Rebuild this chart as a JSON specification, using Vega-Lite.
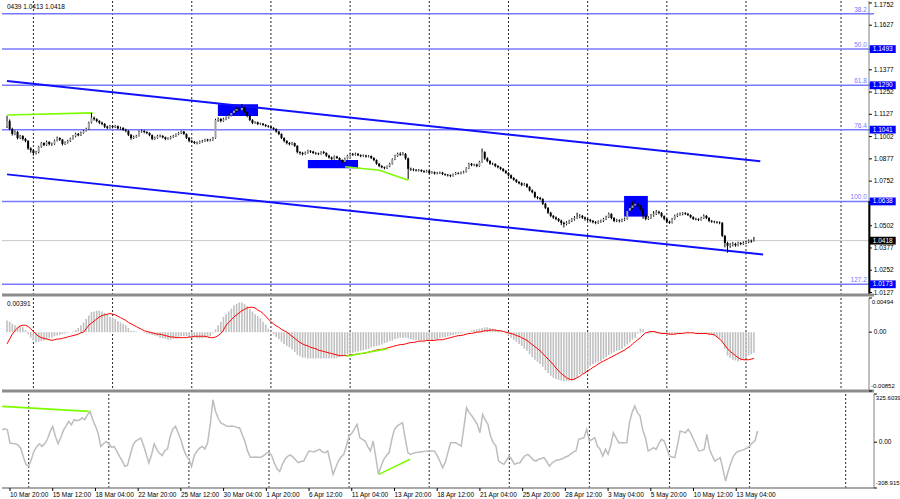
{
  "$schema": "https://vega.github.io/schema/vega-lite/v6.json",
  "padding": 0,
  "spacing": 0,
  "background": "white",
  "config": {
    "view": {"stroke": null},
    "axis": {"disable": true},
    "text": {"font": "Liberation Sans", "fontSize": 6.5, "color": "#000"}
  },
  "datasets": {
    "grid": [{"g":10},{"g":40},{"g":70},{"g":100},{"g":130},{"g":160},{"g":190},{"g":220},{"g":250},{"g":280},{"g":316}],
    "ytMain": [{"p":1.1752,"t":"1.1752"},{"p":1.1627,"t":"1.1627"},{"p":1.1377,"t":"1.1377"},{"p":1.1252,"t":"1.1252"},{"p":1.1127,"t":"1.1127"},{"p":1.1002,"t":"1.1002"},{"p":1.0877,"t":"1.0877"},{"p":1.0752,"t":"1.0752"},{"p":1.0502,"t":"1.0502"},{"p":1.0377,"t":"1.0377"},{"p":1.0252,"t":"1.0252"},{"p":1.0127,"t":"1.0127"}],
    "ytLab": [{"p":1.1627,"t":"1.1627"},{"p":1.1377,"t":"1.1377"},{"p":1.1252,"t":"1.1252"},{"p":1.1127,"t":"1.1127"},{"p":1.1002,"t":"1.1002"},{"p":1.0877,"t":"1.0877"},{"p":1.0752,"t":"1.0752"},{"p":1.0502,"t":"1.0502"},{"p":1.0377,"t":"1.0377"},{"p":1.0252,"t":"1.0252"},{"p":1.0127,"t":"1.0127"}],
    "xt": [{"t":3,"lab":"10 Mar 20:00"},{"t":19,"lab":"15 Mar 12:00"},{"t":35,"lab":"18 Mar 04:00"},{"t":51,"lab":"22 Mar 20:00"},{"t":67,"lab":"25 Mar 12:00"},{"t":83,"lab":"30 Mar 04:00"},{"t":99,"lab":"1 Apr 20:00"},{"t":115,"lab":"6 Apr 12:00"},{"t":131,"lab":"11 Apr 04:00"},{"t":147,"lab":"13 Apr 20:00"},{"t":163,"lab":"18 Apr 12:00"},{"t":179,"lab":"21 Apr 04:00"},{"t":195,"lab":"25 Apr 20:00"},{"t":211,"lab":"28 Apr 12:00"},{"t":227,"lab":"3 May 04:00"},{"t":243,"lab":"5 May 20:00"},{"t":259,"lab":"10 May 12:00"},{"t":275,"lab":"13 May 04:00"}],
    "fib": [{"lvl":"38.2","p":1.1692},{"lvl":"50.0","p":1.1493},{"lvl":"61.8","p":1.1290},{"lvl":"76.4","p":1.1041},{"lvl":"100.0","p":1.0638},{"lvl":"127.2","p":1.0173}],
    "tags": [{"p":1.1493,"t":"1.1493","k":"fib"},{"p":1.1290,"t":"1.1290","k":"fib"},{"p":1.1041,"t":"1.1041","k":"fib"},{"p":1.0638,"t":"1.0638","k":"fib"},{"p":1.0173,"t":"1.0173","k":"fib"},{"p":1.0418,"t":"1.0418","k":"cur"}],
    "zones": [{"a":79.9,"b":95.1,"p1":1.1183,"p2":1.1118},{"a":114,"b":133,"p1":1.0871,"p2":1.0824},{"a":233.8,"b":242.8,"p1":1.0669,"p2":1.0553}],
    "chUp": [{"i":0,"p":1.1314},{"i":285.4,"p":1.0863}],
    "chDn": [{"i":0,"p":1.0790},{"i":286.5,"p":1.0340}],
    "gMainA": [{"i":0,"p":1.1123},{"i":32.5,"p":1.1135}],
    "gMainB": [{"i":128.1,"p":1.0833},{"i":141.1,"p":1.0813},{"i":152.1,"p":1.0757}],
    "gMacd": [{"i":128.5,"m":-0.0035},{"i":144.2,"m":-0.0024}],
    "gCciA": [{"i":0,"v":242},{"i":32.5,"v":208}],
    "gCciB": [{"i":141.1,"v":-217},{"i":152.9,"v":-115}],
    "bars": [
{"i":0,"o":1.1060,"h":1.1118,"l":1.1050,"c":1.1090,"m":0.0017,"s":-0.0017,"v":84},
{"i":1,"o":1.1090,"h":1.1098,"l":1.1038,"c":1.1045,"m":0.0015,"s":-0.0010,"v":90},
{"i":2,"o":1.1045,"h":1.1052,"l":1.1008,"c":1.1017,"m":0.0012,"s":-0.0003,"v":84},
{"i":3,"o":1.1017,"h":1.1036,"l":1.1010,"c":1.1028,"m":0.0010,"s":0.0002,"v":-5},
{"i":4,"o":1.1028,"h":1.1033,"l":1.0986,"c":1.0994,"m":0.0008,"s":0.0006,"v":-8},
{"i":5,"o":1.0994,"h":1.1012,"l":1.0988,"c":1.1005,"m":0.0008,"s":0.0009,"v":-10},
{"i":6,"o":1.1005,"h":1.1010,"l":1.0980,"c":1.0989,"m":0.0007,"s":0.0010,"v":-20},
{"i":7,"o":1.0989,"h":1.0995,"l":1.0970,"c":1.0978,"m":0.0003,"s":0.0010,"v":-40},
{"i":8,"o":1.0978,"h":1.0982,"l":1.0928,"c":1.0935,"m":-0.0003,"s":0.0008,"v":-100},
{"i":9,"o":1.0935,"h":1.0942,"l":1.0912,"c":1.0925,"m":-0.0008,"s":0.0005,"v":-150},
{"i":10,"o":1.0925,"h":1.0930,"l":1.0895,"c":1.0910,"m":-0.0012,"s":0.0001,"v":-163},
{"i":11,"o":1.0910,"h":1.0922,"l":1.0902,"c":1.0915,"m":-0.0015,"s":-0.0003,"v":-115},
{"i":12,"o":1.0915,"h":1.0950,"l":1.0908,"c":1.0945,"m":-0.0014,"s":-0.0006,"v":-60},
{"i":13,"o":1.0945,"h":1.0972,"l":1.0940,"c":1.0966,"m":-0.0013,"s":-0.0008,"v":-30},
{"i":14,"o":1.0966,"h":1.0970,"l":1.0948,"c":1.0955,"m":-0.0012,"s":-0.0009,"v":-10},
{"i":15,"o":1.0955,"h":1.0980,"l":1.0950,"c":1.0972,"m":-0.0010,"s":-0.0010,"v":-28},
{"i":16,"o":1.0972,"h":1.0976,"l":1.0952,"c":1.0960,"m":-0.0009,"s":-0.0011,"v":-10},
{"i":17,"o":1.0960,"h":1.0968,"l":1.0950,"c":1.0961,"m":-0.0008,"s":-0.0012,"v":20},
{"i":18,"o":1.0961,"h":1.0986,"l":1.0956,"c":1.0980,"m":-0.0006,"s":-0.0011,"v":70},
{"i":19,"o":1.0980,"h":1.1002,"l":1.0975,"c":1.0994,"m":-0.0005,"s":-0.0010,"v":107},
{"i":20,"o":1.0994,"h":1.0998,"l":1.0978,"c":1.0985,"m":-0.0004,"s":-0.0010,"v":40},
{"i":21,"o":1.0985,"h":1.0988,"l":1.0952,"c":1.0961,"m":-0.0003,"s":-0.0009,"v":-10},
{"i":22,"o":1.0961,"h":1.0975,"l":1.0955,"c":1.0968,"m":-0.0002,"s":-0.0008,"v":30},
{"i":23,"o":1.0968,"h":1.0984,"l":1.0963,"c":1.0978,"m":-0.0001,"s":-0.0007,"v":80},
{"i":24,"o":1.0978,"h":1.0996,"l":1.0972,"c":1.0990,"m":0.0000,"s":-0.0006,"v":110},
{"i":25,"o":1.0990,"h":1.1010,"l":1.0985,"c":1.1005,"m":0.0001,"s":-0.0005,"v":141},
{"i":26,"o":1.1005,"h":1.1024,"l":1.0998,"c":1.1017,"m":0.0003,"s":-0.0004,"v":118},
{"i":27,"o":1.1017,"h":1.1022,"l":1.1004,"c":1.1010,"m":0.0006,"s":-0.0003,"v":152},
{"i":28,"o":1.1010,"h":1.1030,"l":1.1005,"c":1.1022,"m":0.0010,"s":-0.0001,"v":145},
{"i":29,"o":1.1022,"h":1.1040,"l":1.1018,"c":1.1035,"m":0.0014,"s":0.0000,"v":150},
{"i":30,"o":1.1035,"h":1.1052,"l":1.1030,"c":1.1045,"m":0.0019,"s":0.0005,"v":164},
{"i":31,"o":1.1045,"h":1.1086,"l":1.1040,"c":1.1080,"m":0.0024,"s":0.0010,"v":152},
{"i":32,"o":1.1080,"h":1.1135,"l":1.1075,"c":1.1107,"m":0.0029,"s":0.0013,"v":185},
{"i":33,"o":1.1107,"h":1.1115,"l":1.1092,"c":1.1100,"m":0.0030,"s":0.0016,"v":208},
{"i":34,"o":1.1100,"h":1.1105,"l":1.1082,"c":1.1090,"m":0.0031,"s":0.0019,"v":152},
{"i":35,"o":1.1090,"h":1.1094,"l":1.1072,"c":1.1080,"m":0.0031,"s":0.0022,"v":110},
{"i":36,"o":1.1080,"h":1.1086,"l":1.1066,"c":1.1073,"m":0.0030,"s":0.0024,"v":60},
{"i":37,"o":1.1073,"h":1.1078,"l":1.1050,"c":1.1058,"m":0.0028,"s":0.0025,"v":-28},
{"i":38,"o":1.1058,"h":1.1064,"l":1.1044,"c":1.1051,"m":0.0025,"s":0.0026,"v":-10},
{"i":39,"o":1.1051,"h":1.1068,"l":1.1046,"c":1.1062,"m":0.0022,"s":0.0027,"v":5},
{"i":40,"o":1.1062,"h":1.1066,"l":1.1048,"c":1.1055,"m":0.0021,"s":0.0026,"v":-10},
{"i":41,"o":1.1055,"h":1.1067,"l":1.1050,"c":1.1060,"m":0.0019,"s":0.0025,"v":-33},
{"i":42,"o":1.1060,"h":1.1064,"l":1.1042,"c":1.1048,"m":0.0016,"s":0.0023,"v":-30},
{"i":43,"o":1.1048,"h":1.1058,"l":1.1040,"c":1.1051,"m":0.0014,"s":0.0021,"v":-60},
{"i":44,"o":1.1051,"h":1.1055,"l":1.1034,"c":1.1040,"m":0.0012,"s":0.0019,"v":-95},
{"i":45,"o":1.1040,"h":1.1046,"l":1.1026,"c":1.1034,"m":0.0010,"s":0.0017,"v":-124},
{"i":46,"o":1.1034,"h":1.1038,"l":1.1005,"c":1.1012,"m":0.0006,"s":0.0014,"v":-163},
{"i":47,"o":1.1012,"h":1.1016,"l":1.0984,"c":1.0994,"m":0.0002,"s":0.0012,"v":-155},
{"i":48,"o":1.0994,"h":1.1008,"l":1.0988,"c":1.1000,"m":0.0002,"s":0.0010,"v":-90},
{"i":49,"o":1.1000,"h":1.1012,"l":1.0995,"c":1.1006,"m":0.0001,"s":0.0008,"v":-20},
{"i":50,"o":1.1006,"h":1.1036,"l":1.1002,"c":1.1030,"m":0.0000,"s":0.0006,"v":6},
{"i":51,"o":1.1030,"h":1.1042,"l":1.1024,"c":1.1034,"m":0.0000,"s":0.0004,"v":17},
{"i":52,"o":1.1034,"h":1.1038,"l":1.1020,"c":1.1028,"m":-0.0001,"s":0.0002,"v":28},
{"i":53,"o":1.1028,"h":1.1032,"l":1.1015,"c":1.1022,"m":-0.0002,"s":0.0001,"v":-20},
{"i":54,"o":1.1022,"h":1.1026,"l":1.1004,"c":1.1010,"m":-0.0003,"s":0.0000,"v":-80},
{"i":55,"o":1.1010,"h":1.1014,"l":1.0982,"c":1.0989,"m":-0.0004,"s":-0.0001,"v":-140},
{"i":56,"o":1.0989,"h":1.1002,"l":1.0984,"c":1.0995,"m":-0.0005,"s":-0.0002,"v":-85},
{"i":57,"o":1.0995,"h":1.1012,"l":1.0990,"c":1.1006,"m":-0.0006,"s":-0.0003,"v":-10},
{"i":58,"o":1.1006,"h":1.1014,"l":1.0998,"c":1.1006,"m":-0.0008,"s":-0.0003,"v":-50},
{"i":59,"o":1.1006,"h":1.1010,"l":1.0992,"c":1.0998,"m":-0.0009,"s":-0.0004,"v":-75},
{"i":60,"o":1.0998,"h":1.1002,"l":1.0982,"c":1.0989,"m":-0.0010,"s":-0.0005,"v":-90},
{"i":61,"o":1.0989,"h":1.0998,"l":1.0984,"c":1.0992,"m":-0.0011,"s":-0.0006,"v":-56},
{"i":62,"o":1.0992,"h":1.1006,"l":1.0986,"c":1.1000,"m":-0.0011,"s":-0.0007,"v":-45},
{"i":63,"o":1.1000,"h":1.1012,"l":1.0995,"c":1.1006,"m":-0.0010,"s":-0.0007,"v":40},
{"i":64,"o":1.1006,"h":1.1020,"l":1.1000,"c":1.1015,"m":-0.0009,"s":-0.0008,"v":90},
{"i":65,"o":1.1015,"h":1.1028,"l":1.1010,"c":1.1022,"m":-0.0007,"s":-0.0008,"v":107},
{"i":66,"o":1.1022,"h":1.1036,"l":1.1016,"c":1.1030,"m":-0.0006,"s":-0.0008,"v":62},
{"i":67,"o":1.1030,"h":1.1034,"l":1.1012,"c":1.1017,"m":-0.0006,"s":-0.0008,"v":17},
{"i":68,"o":1.1017,"h":1.1020,"l":1.0988,"c":1.0995,"m":-0.0006,"s":-0.0008,"v":-45},
{"i":69,"o":1.0995,"h":1.1000,"l":1.0970,"c":1.0978,"m":-0.0007,"s":-0.0007,"v":-90},
{"i":70,"o":1.0978,"h":1.0984,"l":1.0966,"c":1.0972,"m":-0.0008,"s":-0.0007,"v":-115},
{"i":71,"o":1.0972,"h":1.0978,"l":1.0960,"c":1.0966,"m":-0.0008,"s":-0.0006,"v":-163},
{"i":72,"o":1.0966,"h":1.0974,"l":1.0958,"c":1.0966,"m":-0.0009,"s":-0.0006,"v":-90},
{"i":73,"o":1.0966,"h":1.0980,"l":1.0962,"c":1.0975,"m":-0.0009,"s":-0.0006,"v":-60},
{"i":74,"o":1.0975,"h":1.0984,"l":1.0968,"c":1.0978,"m":-0.0009,"s":-0.0006,"v":-40},
{"i":75,"o":1.0978,"h":1.0990,"l":1.0972,"c":1.0985,"m":-0.0008,"s":-0.0006,"v":-28},
{"i":76,"o":1.0985,"h":1.0990,"l":1.0974,"c":1.0980,"m":-0.0007,"s":-0.0007,"v":-45},
{"i":77,"o":1.0980,"h":1.0990,"l":1.0975,"c":1.0983,"m":-0.0006,"s":-0.0008,"v":-5},
{"i":78,"o":1.0983,"h":1.1000,"l":1.0978,"c":1.0994,"m":-0.0002,"s":-0.0008,"v":120},
{"i":79,"o":1.0994,"h":1.1102,"l":1.0990,"c":1.1095,"m":0.0004,"s":-0.0007,"v":287},
{"i":80,"o":1.1095,"h":1.1110,"l":1.1085,"c":1.1101,"m":0.0010,"s":-0.0005,"v":208},
{"i":81,"o":1.1101,"h":1.1106,"l":1.1082,"c":1.1090,"m":0.0015,"s":-0.0002,"v":160},
{"i":82,"o":1.1090,"h":1.1108,"l":1.1085,"c":1.1100,"m":0.0022,"s":0.0003,"v":130},
{"i":83,"o":1.1100,"h":1.1115,"l":1.1094,"c":1.1107,"m":0.0026,"s":0.0010,"v":120},
{"i":84,"o":1.1107,"h":1.1126,"l":1.1102,"c":1.1120,"m":0.0030,"s":0.0014,"v":110},
{"i":85,"o":1.1120,"h":1.1142,"l":1.1115,"c":1.1135,"m":0.0034,"s":0.0018,"v":107},
{"i":86,"o":1.1135,"h":1.1155,"l":1.1128,"c":1.1148,"m":0.0039,"s":0.0022,"v":110},
{"i":87,"o":1.1148,"h":1.1165,"l":1.1140,"c":1.1157,"m":0.0041,"s":0.0025,"v":107},
{"i":88,"o":1.1157,"h":1.1170,"l":1.1145,"c":1.1150,"m":0.0043,"s":0.0028,"v":100},
{"i":89,"o":1.1150,"h":1.1185,"l":1.1146,"c":1.1163,"m":0.0043,"s":0.0031,"v":96},
{"i":90,"o":1.1163,"h":1.1170,"l":1.1135,"c":1.1140,"m":0.0041,"s":0.0033,"v":50},
{"i":91,"o":1.1140,"h":1.1145,"l":1.1110,"c":1.1118,"m":0.0038,"s":0.0035,"v":5},
{"i":92,"o":1.1118,"h":1.1122,"l":1.1088,"c":1.1095,"m":0.0034,"s":0.0036,"v":-60},
{"i":93,"o":1.1095,"h":1.1100,"l":1.1072,"c":1.1079,"m":0.0030,"s":0.0036,"v":-101},
{"i":94,"o":1.1079,"h":1.1088,"l":1.1074,"c":1.1082,"m":0.0026,"s":0.0035,"v":-101},
{"i":95,"o":1.1082,"h":1.1086,"l":1.1066,"c":1.1073,"m":0.0023,"s":0.0032,"v":-100},
{"i":96,"o":1.1073,"h":1.1080,"l":1.1068,"c":1.1075,"m":0.0020,"s":0.0030,"v":-101},
{"i":97,"o":1.1075,"h":1.1078,"l":1.1062,"c":1.1068,"m":0.0015,"s":0.0027,"v":-101},
{"i":98,"o":1.1068,"h":1.1072,"l":1.1056,"c":1.1062,"m":0.0011,"s":0.0023,"v":-90},
{"i":99,"o":1.1062,"h":1.1066,"l":1.1052,"c":1.1058,"m":0.0005,"s":0.0019,"v":-75},
{"i":100,"o":1.1058,"h":1.1062,"l":1.1045,"c":1.1051,"m":0.0001,"s":0.0015,"v":-67},
{"i":101,"o":1.1051,"h":1.1055,"l":1.1038,"c":1.1045,"m":-0.0003,"s":0.0012,"v":-90},
{"i":102,"o":1.1045,"h":1.1048,"l":1.1024,"c":1.1030,"m":-0.0007,"s":0.0009,"v":-140},
{"i":103,"o":1.1030,"h":1.1034,"l":1.1010,"c":1.1017,"m":-0.0010,"s":0.0007,"v":-180},
{"i":104,"o":1.1017,"h":1.1020,"l":1.0988,"c":1.0994,"m":-0.0014,"s":0.0004,"v":-197},
{"i":105,"o":1.0994,"h":1.0998,"l":1.0970,"c":1.0978,"m":-0.0017,"s":0.0002,"v":-150},
{"i":106,"o":1.0978,"h":1.0982,"l":1.0958,"c":1.0966,"m":-0.0020,"s":0.0000,"v":-115},
{"i":107,"o":1.0966,"h":1.0972,"l":1.0952,"c":1.0960,"m":-0.0022,"s":-0.0003,"v":-95},
{"i":108,"o":1.0960,"h":1.0972,"l":1.0954,"c":1.0965,"m":-0.0025,"s":-0.0006,"v":-85},
{"i":109,"o":1.0965,"h":1.0968,"l":1.0944,"c":1.0950,"m":-0.0029,"s":-0.0009,"v":-100},
{"i":110,"o":1.0950,"h":1.0954,"l":1.0908,"c":1.0915,"m":-0.0033,"s":-0.0012,"v":-120},
{"i":111,"o":1.0915,"h":1.0920,"l":1.0900,"c":1.0910,"m":-0.0035,"s":-0.0015,"v":-138},
{"i":112,"o":1.0910,"h":1.0916,"l":1.0896,"c":1.0905,"m":-0.0037,"s":-0.0017,"v":-130},
{"i":113,"o":1.0905,"h":1.0918,"l":1.0900,"c":1.0912,"m":-0.0037,"s":-0.0019,"v":-127},
{"i":114,"o":1.0912,"h":1.0928,"l":1.0906,"c":1.0922,"m":-0.0038,"s":-0.0020,"v":-90},
{"i":115,"o":1.0922,"h":1.0926,"l":1.0910,"c":1.0918,"m":-0.0038,"s":-0.0022,"v":-59},
{"i":116,"o":1.0918,"h":1.0922,"l":1.0904,"c":1.0910,"m":-0.0038,"s":-0.0023,"v":-62},
{"i":117,"o":1.0910,"h":1.0916,"l":1.0900,"c":1.0908,"m":-0.0038,"s":-0.0024,"v":-64},
{"i":118,"o":1.0908,"h":1.0912,"l":1.0898,"c":1.0905,"m":-0.0038,"s":-0.0026,"v":-55},
{"i":119,"o":1.0905,"h":1.0920,"l":1.0900,"c":1.0915,"m":-0.0038,"s":-0.0027,"v":-48},
{"i":120,"o":1.0915,"h":1.0922,"l":1.0904,"c":1.0910,"m":-0.0038,"s":-0.0028,"v":-65},
{"i":121,"o":1.0910,"h":1.0914,"l":1.0888,"c":1.0895,"m":-0.0038,"s":-0.0029,"v":-70},
{"i":122,"o":1.0895,"h":1.0900,"l":1.0878,"c":1.0885,"m":-0.0038,"s":-0.0030,"v":-59},
{"i":123,"o":1.0885,"h":1.0890,"l":1.0870,"c":1.0877,"m":-0.0038,"s":-0.0031,"v":-138},
{"i":124,"o":1.0877,"h":1.0896,"l":1.0872,"c":1.0890,"m":-0.0038,"s":-0.0032,"v":-217},
{"i":125,"o":1.0890,"h":1.0894,"l":1.0876,"c":1.0882,"m":-0.0037,"s":-0.0033,"v":-170},
{"i":126,"o":1.0882,"h":1.0886,"l":1.0864,"c":1.0870,"m":-0.0036,"s":-0.0034,"v":-127},
{"i":127,"o":1.0870,"h":1.0874,"l":1.0852,"c":1.0860,"m":-0.0035,"s":-0.0034,"v":-100},
{"i":128,"o":1.0860,"h":1.0884,"l":1.0856,"c":1.0878,"m":-0.0034,"s":-0.0034,"v":-82},
{"i":129,"o":1.0878,"h":1.0900,"l":1.0874,"c":1.0895,"m":-0.0032,"s":-0.0034,"v":-26},
{"i":130,"o":1.0895,"h":1.0912,"l":1.0890,"c":1.0905,"m":-0.0031,"s":-0.0033,"v":42},
{"i":131,"o":1.0905,"h":1.0910,"l":1.0894,"c":1.0900,"m":-0.0030,"s":-0.0033,"v":60},
{"i":132,"o":1.0900,"h":1.0912,"l":1.0895,"c":1.0905,"m":-0.0029,"s":-0.0032,"v":90},
{"i":133,"o":1.0905,"h":1.0910,"l":1.0892,"c":1.0898,"m":-0.0028,"s":-0.0032,"v":121},
{"i":134,"o":1.0898,"h":1.0902,"l":1.0886,"c":1.0893,"m":-0.0027,"s":-0.0031,"v":31},
{"i":135,"o":1.0893,"h":1.0902,"l":1.0888,"c":1.0896,"m":-0.0026,"s":-0.0031,"v":20},
{"i":136,"o":1.0896,"h":1.0900,"l":1.0884,"c":1.0890,"m":-0.0025,"s":-0.0030,"v":8},
{"i":137,"o":1.0890,"h":1.0898,"l":1.0885,"c":1.0893,"m":-0.0024,"s":-0.0029,"v":-30},
{"i":138,"o":1.0893,"h":1.0896,"l":1.0876,"c":1.0882,"m":-0.0022,"s":-0.0028,"v":-59},
{"i":139,"o":1.0882,"h":1.0886,"l":1.0864,"c":1.0870,"m":-0.0021,"s":-0.0027,"v":8},
{"i":140,"o":1.0870,"h":1.0874,"l":1.0844,"c":1.0850,"m":-0.0020,"s":-0.0026,"v":-100},
{"i":141,"o":1.0850,"h":1.0854,"l":1.0830,"c":1.0837,"m":-0.0019,"s":-0.0025,"v":-217},
{"i":142,"o":1.0837,"h":1.0842,"l":1.0824,"c":1.0830,"m":-0.0018,"s":-0.0025,"v":-160},
{"i":143,"o":1.0830,"h":1.0834,"l":1.0818,"c":1.0826,"m":-0.0016,"s":-0.0024,"v":-116},
{"i":144,"o":1.0826,"h":1.0840,"l":1.0820,"c":1.0835,"m":-0.0015,"s":-0.0023,"v":-90},
{"i":145,"o":1.0835,"h":1.0855,"l":1.0830,"c":1.0849,"m":-0.0013,"s":-0.0022,"v":-70},
{"i":146,"o":1.0849,"h":1.0880,"l":1.0845,"c":1.0875,"m":-0.0012,"s":-0.0021,"v":20},
{"i":147,"o":1.0875,"h":1.0900,"l":1.0870,"c":1.0893,"m":-0.0010,"s":-0.0020,"v":87},
{"i":148,"o":1.0893,"h":1.0912,"l":1.0888,"c":1.0905,"m":-0.0009,"s":-0.0019,"v":110},
{"i":149,"o":1.0905,"h":1.0914,"l":1.0894,"c":1.0900,"m":-0.0008,"s":-0.0018,"v":121},
{"i":150,"o":1.0900,"h":1.0915,"l":1.0896,"c":1.0905,"m":-0.0008,"s":-0.0018,"v":132},
{"i":151,"o":1.0905,"h":1.0910,"l":1.0872,"c":1.0880,"m":-0.0008,"s":-0.0017,"v":30},
{"i":152,"o":1.0880,"h":1.0884,"l":1.0764,"c":1.0821,"m":-0.0009,"s":-0.0016,"v":-70},
{"i":153,"o":1.0821,"h":1.0828,"l":1.0810,"c":1.0818,"m":-0.0010,"s":-0.0015,"v":-82},
{"i":154,"o":1.0818,"h":1.0824,"l":1.0808,"c":1.0815,"m":-0.0011,"s":-0.0015,"v":-75},
{"i":155,"o":1.0815,"h":1.0820,"l":1.0806,"c":1.0812,"m":-0.0011,"s":-0.0014,"v":-70},
{"i":156,"o":1.0812,"h":1.0820,"l":1.0806,"c":1.0815,"m":-0.0012,"s":-0.0013,"v":-67},
{"i":157,"o":1.0815,"h":1.0818,"l":1.0802,"c":1.0809,"m":-0.0012,"s":-0.0013,"v":-64},
{"i":158,"o":1.0809,"h":1.0814,"l":1.0798,"c":1.0805,"m":-0.0012,"s":-0.0013,"v":-62},
{"i":159,"o":1.0805,"h":1.0816,"l":1.0800,"c":1.0810,"m":-0.0012,"s":-0.0012,"v":-60},
{"i":160,"o":1.0810,"h":1.0814,"l":1.0792,"c":1.0798,"m":-0.0012,"s":-0.0012,"v":-59},
{"i":161,"o":1.0798,"h":1.0808,"l":1.0794,"c":1.0802,"m":-0.0012,"s":-0.0012,"v":-59},
{"i":162,"o":1.0802,"h":1.0806,"l":1.0789,"c":1.0795,"m":-0.0011,"s":-0.0012,"v":-59},
{"i":163,"o":1.0795,"h":1.0804,"l":1.0790,"c":1.0798,"m":-0.0010,"s":-0.0011,"v":-90},
{"i":164,"o":1.0798,"h":1.0806,"l":1.0792,"c":1.0800,"m":-0.0009,"s":-0.0011,"v":-127},
{"i":165,"o":1.0800,"h":1.0804,"l":1.0786,"c":1.0792,"m":-0.0008,"s":-0.0011,"v":-172},
{"i":166,"o":1.0792,"h":1.0796,"l":1.0782,"c":1.0788,"m":-0.0007,"s":-0.0010,"v":-138},
{"i":167,"o":1.0788,"h":1.0792,"l":1.0778,"c":1.0785,"m":-0.0006,"s":-0.0009,"v":-70},
{"i":168,"o":1.0785,"h":1.0790,"l":1.0774,"c":1.0781,"m":-0.0005,"s":-0.0008,"v":-3},
{"i":169,"o":1.0781,"h":1.0795,"l":1.0777,"c":1.0790,"m":-0.0004,"s":-0.0007,"v":-3},
{"i":170,"o":1.0790,"h":1.0804,"l":1.0786,"c":1.0798,"m":-0.0003,"s":-0.0006,"v":-3},
{"i":171,"o":1.0798,"h":1.0802,"l":1.0790,"c":1.0795,"m":-0.0002,"s":-0.0005,"v":-15},
{"i":172,"o":1.0795,"h":1.0806,"l":1.0790,"c":1.0800,"m":-0.0002,"s":-0.0005,"v":-26},
{"i":173,"o":1.0800,"h":1.0810,"l":1.0795,"c":1.0804,"m":-0.0001,"s":-0.0004,"v":100},
{"i":174,"o":1.0804,"h":1.0830,"l":1.0800,"c":1.0825,"m":0.0000,"s":-0.0003,"v":233},
{"i":175,"o":1.0825,"h":1.0855,"l":1.0820,"c":1.0849,"m":0.0001,"s":-0.0002,"v":200},
{"i":176,"o":1.0849,"h":1.0854,"l":1.0836,"c":1.0842,"m":0.0002,"s":-0.0002,"v":177},
{"i":177,"o":1.0842,"h":1.0850,"l":1.0836,"c":1.0845,"m":0.0003,"s":-0.0001,"v":150},
{"i":178,"o":1.0845,"h":1.0850,"l":1.0830,"c":1.0837,"m":0.0004,"s":0.0000,"v":121},
{"i":179,"o":1.0837,"h":1.0866,"l":1.0832,"c":1.0860,"m":0.0005,"s":0.0000,"v":64},
{"i":180,"o":1.0860,"h":1.0935,"l":1.0855,"c":1.0915,"m":0.0006,"s":0.0001,"v":188},
{"i":181,"o":1.0915,"h":1.0920,"l":1.0872,"c":1.0880,"m":0.0007,"s":0.0002,"v":150},
{"i":182,"o":1.0880,"h":1.0886,"l":1.0858,"c":1.0865,"m":0.0007,"s":0.0002,"v":121},
{"i":183,"o":1.0865,"h":1.0870,"l":1.0844,"c":1.0850,"m":0.0006,"s":0.0003,"v":40},
{"i":184,"o":1.0850,"h":1.0856,"l":1.0842,"c":1.0849,"m":0.0005,"s":0.0003,"v":-3},
{"i":185,"o":1.0849,"h":1.0852,"l":1.0830,"c":1.0837,"m":0.0004,"s":0.0003,"v":-26},
{"i":186,"o":1.0837,"h":1.0842,"l":1.0824,"c":1.0830,"m":0.0003,"s":0.0002,"v":-127},
{"i":187,"o":1.0830,"h":1.0834,"l":1.0814,"c":1.0821,"m":0.0002,"s":0.0002,"v":-140},
{"i":188,"o":1.0821,"h":1.0825,"l":1.0804,"c":1.0810,"m":0.0000,"s":0.0001,"v":-149},
{"i":189,"o":1.0810,"h":1.0814,"l":1.0792,"c":1.0798,"m":-0.0002,"s":0.0000,"v":-120},
{"i":190,"o":1.0798,"h":1.0802,"l":1.0778,"c":1.0785,"m":-0.0005,"s":-0.0001,"v":-93},
{"i":191,"o":1.0785,"h":1.0790,"l":1.0764,"c":1.0770,"m":-0.0008,"s":-0.0002,"v":-120},
{"i":192,"o":1.0770,"h":1.0775,"l":1.0754,"c":1.0760,"m":-0.0011,"s":-0.0003,"v":-149},
{"i":193,"o":1.0760,"h":1.0764,"l":1.0742,"c":1.0748,"m":-0.0014,"s":-0.0005,"v":-140},
{"i":194,"o":1.0748,"h":1.0752,"l":1.0734,"c":1.0740,"m":-0.0017,"s":-0.0006,"v":-138},
{"i":195,"o":1.0740,"h":1.0746,"l":1.0724,"c":1.0731,"m":-0.0020,"s":-0.0008,"v":-110},
{"i":196,"o":1.0731,"h":1.0742,"l":1.0726,"c":1.0735,"m":-0.0024,"s":-0.0010,"v":-90},
{"i":197,"o":1.0735,"h":1.0740,"l":1.0714,"c":1.0720,"m":-0.0027,"s":-0.0012,"v":-82},
{"i":198,"o":1.0720,"h":1.0724,"l":1.0694,"c":1.0700,"m":-0.0032,"s":-0.0015,"v":-100},
{"i":199,"o":1.0700,"h":1.0706,"l":1.0684,"c":1.0690,"m":-0.0036,"s":-0.0018,"v":-120},
{"i":200,"o":1.0690,"h":1.0694,"l":1.0656,"c":1.0663,"m":-0.0040,"s":-0.0021,"v":-127},
{"i":201,"o":1.0663,"h":1.0668,"l":1.0650,"c":1.0658,"m":-0.0043,"s":-0.0024,"v":-115},
{"i":202,"o":1.0658,"h":1.0664,"l":1.0645,"c":1.0652,"m":-0.0046,"s":-0.0027,"v":-110},
{"i":203,"o":1.0652,"h":1.0656,"l":1.0618,"c":1.0625,"m":-0.0050,"s":-0.0031,"v":-104},
{"i":204,"o":1.0625,"h":1.0630,"l":1.0595,"c":1.0602,"m":-0.0055,"s":-0.0035,"v":-130},
{"i":205,"o":1.0602,"h":1.0606,"l":1.0568,"c":1.0575,"m":-0.0059,"s":-0.0039,"v":-161},
{"i":206,"o":1.0575,"h":1.0580,"l":1.0550,"c":1.0557,"m":-0.0063,"s":-0.0043,"v":-140},
{"i":207,"o":1.0557,"h":1.0562,"l":1.0540,"c":1.0548,"m":-0.0066,"s":-0.0047,"v":-127},
{"i":208,"o":1.0548,"h":1.0554,"l":1.0532,"c":1.0540,"m":-0.0068,"s":-0.0052,"v":-120},
{"i":209,"o":1.0540,"h":1.0545,"l":1.0522,"c":1.0530,"m":-0.0069,"s":-0.0056,"v":-116},
{"i":210,"o":1.0530,"h":1.0536,"l":1.0505,"c":1.0518,"m":-0.0070,"s":-0.0060,"v":-110},
{"i":211,"o":1.0518,"h":1.0524,"l":1.0492,"c":1.0512,"m":-0.0071,"s":-0.0063,"v":-100},
{"i":212,"o":1.0512,"h":1.0528,"l":1.0504,"c":1.0520,"m":-0.0071,"s":-0.0066,"v":-93},
{"i":213,"o":1.0520,"h":1.0535,"l":1.0512,"c":1.0529,"m":-0.0070,"s":-0.0068,"v":-80},
{"i":214,"o":1.0529,"h":1.0545,"l":1.0522,"c":1.0538,"m":-0.0070,"s":-0.0069,"v":-65},
{"i":215,"o":1.0538,"h":1.0556,"l":1.0530,"c":1.0546,"m":-0.0069,"s":-0.0068,"v":-59},
{"i":216,"o":1.0546,"h":1.0575,"l":1.0540,"c":1.0552,"m":-0.0065,"s":-0.0066,"v":20},
{"i":217,"o":1.0552,"h":1.0566,"l":1.0544,"c":1.0557,"m":-0.0061,"s":-0.0064,"v":25},
{"i":218,"o":1.0557,"h":1.0562,"l":1.0540,"c":1.0548,"m":-0.0060,"s":-0.0061,"v":31},
{"i":219,"o":1.0548,"h":1.0553,"l":1.0530,"c":1.0540,"m":-0.0058,"s":-0.0059,"v":87},
{"i":220,"o":1.0540,"h":1.0546,"l":1.0528,"c":1.0535,"m":-0.0053,"s":-0.0056,"v":8},
{"i":221,"o":1.0535,"h":1.0540,"l":1.0520,"c":1.0529,"m":-0.0049,"s":-0.0054,"v":20},
{"i":222,"o":1.0529,"h":1.0534,"l":1.0515,"c":1.0522,"m":-0.0046,"s":-0.0051,"v":31},
{"i":223,"o":1.0522,"h":1.0528,"l":1.0510,"c":1.0518,"m":-0.0044,"s":-0.0049,"v":-26},
{"i":224,"o":1.0518,"h":1.0532,"l":1.0512,"c":1.0525,"m":-0.0043,"s":-0.0046,"v":-48},
{"i":225,"o":1.0525,"h":1.0536,"l":1.0518,"c":1.0529,"m":-0.0042,"s":-0.0044,"v":-93},
{"i":226,"o":1.0529,"h":1.0546,"l":1.0522,"c":1.0540,"m":-0.0039,"s":-0.0042,"v":-48},
{"i":227,"o":1.0540,"h":1.0558,"l":1.0534,"c":1.0550,"m":-0.0036,"s":-0.0040,"v":-82},
{"i":228,"o":1.0550,"h":1.0576,"l":1.0545,"c":1.0568,"m":-0.0033,"s":-0.0038,"v":-20},
{"i":229,"o":1.0568,"h":1.0572,"l":1.0538,"c":1.0545,"m":-0.0031,"s":-0.0036,"v":64},
{"i":230,"o":1.0545,"h":1.0550,"l":1.0522,"c":1.0529,"m":-0.0029,"s":-0.0034,"v":30},
{"i":231,"o":1.0529,"h":1.0540,"l":1.0522,"c":1.0532,"m":-0.0027,"s":-0.0032,"v":-3},
{"i":232,"o":1.0532,"h":1.0538,"l":1.0520,"c":1.0529,"m":-0.0026,"s":-0.0030,"v":-3},
{"i":233,"o":1.0529,"h":1.0542,"l":1.0522,"c":1.0535,"m":-0.0024,"s":-0.0028,"v":-3},
{"i":234,"o":1.0535,"h":1.0548,"l":1.0528,"c":1.0540,"m":-0.0021,"s":-0.0026,"v":-3},
{"i":235,"o":1.0540,"h":1.0592,"l":1.0536,"c":1.0585,"m":-0.0018,"s":-0.0023,"v":132},
{"i":236,"o":1.0585,"h":1.0625,"l":1.0578,"c":1.0602,"m":-0.0015,"s":-0.0021,"v":200},
{"i":237,"o":1.0602,"h":1.0638,"l":1.0595,"c":1.0615,"m":-0.0011,"s":-0.0017,"v":244},
{"i":238,"o":1.0615,"h":1.0645,"l":1.0608,"c":1.0624,"m":-0.0008,"s":-0.0014,"v":200},
{"i":239,"o":1.0624,"h":1.0636,"l":1.0602,"c":1.0610,"m":-0.0002,"s":-0.0011,"v":177},
{"i":240,"o":1.0610,"h":1.0618,"l":1.0588,"c":1.0596,"m":0.0005,"s":-0.0008,"v":80},
{"i":241,"o":1.0596,"h":1.0600,"l":1.0540,"c":1.0560,"m":0.0004,"s":-0.0004,"v":31},
{"i":242,"o":1.0560,"h":1.0566,"l":1.0532,"c":1.0540,"m":0.0000,"s":-0.0001,"v":-59},
{"i":243,"o":1.0540,"h":1.0555,"l":1.0534,"c":1.0546,"m":-0.0002,"s":0.0000,"v":-50},
{"i":244,"o":1.0546,"h":1.0568,"l":1.0540,"c":1.0560,"m":-0.0002,"s":0.0001,"v":-37},
{"i":245,"o":1.0560,"h":1.0584,"l":1.0552,"c":1.0568,"m":-0.0001,"s":0.0001,"v":-48},
{"i":246,"o":1.0568,"h":1.0590,"l":1.0562,"c":1.0580,"m":-0.0002,"s":0.0000,"v":-10},
{"i":247,"o":1.0580,"h":1.0586,"l":1.0566,"c":1.0574,"m":-0.0002,"s":-0.0001,"v":20},
{"i":248,"o":1.0574,"h":1.0578,"l":1.0548,"c":1.0555,"m":-0.0003,"s":-0.0002,"v":8},
{"i":249,"o":1.0555,"h":1.0560,"l":1.0532,"c":1.0540,"m":-0.0003,"s":-0.0002,"v":-40},
{"i":250,"o":1.0540,"h":1.0545,"l":1.0516,"c":1.0525,"m":-0.0004,"s":-0.0002,"v":-93},
{"i":251,"o":1.0525,"h":1.0530,"l":1.0512,"c":1.0518,"m":-0.0004,"s":-0.0003,"v":-100},
{"i":252,"o":1.0518,"h":1.0546,"l":1.0514,"c":1.0540,"m":-0.0004,"s":-0.0003,"v":-104},
{"i":253,"o":1.0540,"h":1.0564,"l":1.0535,"c":1.0557,"m":-0.0003,"s":-0.0003,"v":-20},
{"i":254,"o":1.0557,"h":1.0572,"l":1.0550,"c":1.0565,"m":-0.0002,"s":-0.0002,"v":76},
{"i":255,"o":1.0565,"h":1.0576,"l":1.0558,"c":1.0568,"m":-0.0002,"s":-0.0002,"v":70},
{"i":256,"o":1.0568,"h":1.0578,"l":1.0560,"c":1.0572,"m":-0.0001,"s":-0.0002,"v":64},
{"i":257,"o":1.0572,"h":1.0578,"l":1.0562,"c":1.0568,"m":0.0000,"s":-0.0001,"v":87},
{"i":258,"o":1.0568,"h":1.0574,"l":1.0556,"c":1.0562,"m":0.0001,"s":-0.0001,"v":60},
{"i":259,"o":1.0562,"h":1.0566,"l":1.0544,"c":1.0550,"m":0.0000,"s":-0.0001,"v":20},
{"i":260,"o":1.0550,"h":1.0555,"l":1.0534,"c":1.0540,"m":-0.0001,"s":-0.0001,"v":-20},
{"i":261,"o":1.0540,"h":1.0546,"l":1.0532,"c":1.0538,"m":-0.0001,"s":-0.0002,"v":-59},
{"i":262,"o":1.0538,"h":1.0544,"l":1.0528,"c":1.0534,"m":-0.0002,"s":-0.0002,"v":-55},
{"i":263,"o":1.0534,"h":1.0552,"l":1.0530,"c":1.0545,"m":-0.0002,"s":-0.0002,"v":-48},
{"i":264,"o":1.0545,"h":1.0566,"l":1.0540,"c":1.0557,"m":-0.0002,"s":-0.0002,"v":53},
{"i":265,"o":1.0557,"h":1.0562,"l":1.0538,"c":1.0545,"m":-0.0003,"s":-0.0002,"v":-48},
{"i":266,"o":1.0545,"h":1.0550,"l":1.0522,"c":1.0529,"m":-0.0003,"s":-0.0003,"v":-90},
{"i":267,"o":1.0529,"h":1.0534,"l":1.0518,"c":1.0525,"m":-0.0004,"s":-0.0003,"v":-127},
{"i":268,"o":1.0525,"h":1.0530,"l":1.0516,"c":1.0523,"m":-0.0005,"s":-0.0004,"v":-115},
{"i":269,"o":1.0523,"h":1.0528,"l":1.0514,"c":1.0520,"m":-0.0007,"s":-0.0007,"v":-104},
{"i":270,"o":1.0520,"h":1.0526,"l":1.0510,"c":1.0518,"m":-0.0010,"s":-0.0010,"v":-180},
{"i":271,"o":1.0518,"h":1.0522,"l":1.0438,"c":1.0445,"m":-0.0016,"s":-0.0014,"v":-262},
{"i":272,"o":1.0445,"h":1.0450,"l":1.0380,"c":1.0405,"m":-0.0024,"s":-0.0019,"v":-194},
{"i":273,"o":1.0405,"h":1.0412,"l":1.0350,"c":1.0389,"m":-0.0034,"s":-0.0024,"v":-140},
{"i":274,"o":1.0389,"h":1.0404,"l":1.0378,"c":1.0395,"m":-0.0037,"s":-0.0028,"v":-93},
{"i":275,"o":1.0395,"h":1.0410,"l":1.0386,"c":1.0400,"m":-0.0040,"s":-0.0031,"v":-70},
{"i":276,"o":1.0400,"h":1.0406,"l":1.0384,"c":1.0392,"m":-0.0041,"s":-0.0034,"v":-59},
{"i":277,"o":1.0392,"h":1.0412,"l":1.0386,"c":1.0405,"m":-0.0042,"s":-0.0037,"v":-55},
{"i":278,"o":1.0405,"h":1.0410,"l":1.0392,"c":1.0400,"m":-0.0041,"s":-0.0039,"v":-48},
{"i":279,"o":1.0400,"h":1.0414,"l":1.0394,"c":1.0405,"m":-0.0040,"s":-0.0040,"v":-40},
{"i":280,"o":1.0405,"h":1.0418,"l":1.0398,"c":1.0410,"m":-0.0037,"s":-0.0040,"v":-26},
{"i":281,"o":1.0410,"h":1.0425,"l":1.0404,"c":1.0417,"m":-0.0034,"s":-0.0040,"v":-5},
{"i":282,"o":1.0417,"h":1.0424,"l":1.0406,"c":1.0413,"m":-0.0032,"s":-0.0039,"v":8},
{"i":283,"o":1.0416,"h":1.0439,"l":1.0413,"c":1.0418,"m":-0.0030,"s":-0.0038,"v":76}
    ]
  },
  "vconcat": [
    {
      "width": 872,
      "height": 294,
      "layer": [
        {"data": {"name": "grid"}, "mark": {"type": "rule", "strokeDash": [2, 2], "color": "#000", "strokeWidth": 1, "opacity": 0.85},
         "encoding": {"x": {"field": "g", "type": "quantitative", "scale": {"domain": [0, 326.6], "nice": false, "zero": false}, "axis": null}}},
        {"data": {"name": "fib"}, "mark": {"type": "rule", "color": "#7878ff", "strokeWidth": 1.5},
         "encoding": {"y": {"field": "p", "type": "quantitative", "scale": {"domain": [1.0113, 1.1763], "nice": false, "zero": false}, "axis": null}}},
        {"data": {"values": [{"p": 1.0418}]}, "mark": {"type": "rule", "color": "#c8c8c8", "strokeWidth": 1},
         "encoding": {"y": {"field": "p", "type": "quantitative", "scale": {"domain": [1.0113, 1.1763], "nice": false, "zero": false}, "axis": null}}},
        {"data": {"name": "zones"}, "mark": {"type": "rect", "color": "#0000ff", "opacity": 1},
         "encoding": {
           "x": {"field": "a", "type": "quantitative", "scale": {"domain": [0, 326.6], "nice": false, "zero": false}, "axis": null},
           "x2": {"field": "b"},
           "y": {"field": "p1", "type": "quantitative", "scale": {"domain": [1.0113, 1.1763], "nice": false, "zero": false}, "axis": null},
           "y2": {"field": "p2"}}},
        {"data": {"name": "chUp"}, "mark": {"type": "line", "color": "#1010ff", "strokeWidth": 2, "clip": true},
         "encoding": {
           "x": {"field": "i", "type": "quantitative", "scale": {"domain": [0, 326.6], "nice": false, "zero": false}, "axis": null},
           "y": {"field": "p", "type": "quantitative", "scale": {"domain": [1.0113, 1.1763], "nice": false, "zero": false}, "axis": null}}},
        {"data": {"name": "chDn"}, "mark": {"type": "line", "color": "#1010ff", "strokeWidth": 2, "clip": true},
         "encoding": {
           "x": {"field": "i", "type": "quantitative", "scale": {"domain": [0, 326.6], "nice": false, "zero": false}, "axis": null},
           "y": {"field": "p", "type": "quantitative", "scale": {"domain": [1.0113, 1.1763], "nice": false, "zero": false}, "axis": null}}},
        {"data": {"name": "gMainA"}, "mark": {"type": "line", "color": "#7cfc00", "strokeWidth": 1.6, "clip": true},
         "encoding": {
           "x": {"field": "i", "type": "quantitative", "scale": {"domain": [0, 326.6], "nice": false, "zero": false}, "axis": null},
           "y": {"field": "p", "type": "quantitative", "scale": {"domain": [1.0113, 1.1763], "nice": false, "zero": false}, "axis": null}}},
        {"data": {"name": "gMainB"}, "mark": {"type": "line", "color": "#7cfc00", "strokeWidth": 1.6, "clip": true},
         "encoding": {
           "x": {"field": "i", "type": "quantitative", "scale": {"domain": [0, 326.6], "nice": false, "zero": false}, "axis": null},
           "y": {"field": "p", "type": "quantitative", "scale": {"domain": [1.0113, 1.1763], "nice": false, "zero": false}, "axis": null}}},
        {"data": {"name": "bars"}, "mark": {"type": "rule", "color": "#000", "strokeWidth": 1, "clip": true},
         "encoding": {
           "x": {"field": "i", "type": "quantitative", "scale": {"domain": [0, 326.6], "nice": false, "zero": false}, "axis": null},
           "y": {"field": "l", "type": "quantitative", "scale": {"domain": [1.0113, 1.1763], "nice": false, "zero": false}, "axis": null},
           "y2": {"field": "h"}}},
        {"data": {"name": "bars"}, "mark": {"type": "bar", "size": 2, "clip": true},
         "encoding": {
           "x": {"field": "i", "type": "quantitative", "scale": {"domain": [0, 326.6], "nice": false, "zero": false}, "axis": null},
           "y": {"field": "o", "type": "quantitative", "scale": {"domain": [1.0113, 1.1763], "nice": false, "zero": false}, "axis": null},
           "y2": {"field": "c"},
           "color": {"condition": {"test": "datum.c >= datum.o", "value": "#a0a0a0"}, "value": "#000000"}}},
        {"data": {"name": "fib"}, "mark": {"type": "text", "align": "right", "baseline": "bottom", "dy": -1, "color": "#7878ff"},
         "encoding": {
           "x": {"datum": 325.8, "type": "quantitative", "scale": {"domain": [0, 326.6], "nice": false, "zero": false}, "axis": null},
           "y": {"field": "p", "type": "quantitative", "scale": {"domain": [1.0113, 1.1763], "nice": false, "zero": false}, "axis": null},
           "text": {"field": "lvl"}}},
        {"data": {"values": [{"t": "0439 1.0413 1.0418"}]}, "mark": {"type": "text", "align": "left", "baseline": "top", "dy": 3},
         "encoding": {
           "x": {"datum": 0, "type": "quantitative", "scale": {"domain": [0, 326.6], "nice": false, "zero": false}, "axis": null},
           "y": {"datum": 1.1763, "type": "quantitative", "scale": {"domain": [1.0113, 1.1763], "nice": false, "zero": false}, "axis": null},
           "text": {"field": "t"}}},
        {"data": {"values": [{"e": 326.6}]}, "mark": {"type": "rule", "color": "#808080", "strokeWidth": 1},
         "encoding": {"x": {"field": "e", "type": "quantitative", "scale": {"domain": [0, 326.6], "nice": false, "zero": false}, "axis": null}}},
        {"data": {"values": [{"a": 1.0640, "b": 1.0113}]}, "mark": {"type": "rule", "color": "#000", "strokeWidth": 2},
         "encoding": {
           "x": {"datum": 326.75, "type": "quantitative", "scale": {"domain": [0, 326.6], "nice": false, "zero": false}, "axis": null},
           "y": {"field": "a", "type": "quantitative", "scale": {"domain": [1.0113, 1.1763], "nice": false, "zero": false}, "axis": null},
           "y2": {"field": "b"}}},
        {"data": {"values": [{"e": 1.0113}]}, "mark": {"type": "rule", "color": "#8c8c8c", "strokeWidth": 3},
         "encoding": {"y": {"field": "e", "type": "quantitative", "scale": {"domain": [1.0113, 1.1763], "nice": false, "zero": false}, "axis": null}}},
        {"data": {"name": "ytMain"}, "mark": {"type": "rule", "color": "#000", "strokeWidth": 1},
         "encoding": {
           "x": {"datum": 326.6, "type": "quantitative", "scale": {"domain": [0, 326.6], "nice": false, "zero": false}, "axis": null},
           "x2": {"datum": 327.7},
           "y": {"field": "p", "type": "quantitative", "scale": {"domain": [1.0113, 1.1763], "nice": false, "zero": false}, "axis": null}}},
        {"data": {"name": "ytLab"}, "mark": {"type": "text", "align": "left", "baseline": "middle"},
         "encoding": {
           "x": {"datum": 328.4, "type": "quantitative", "scale": {"domain": [0, 326.6], "nice": false, "zero": false}, "axis": null},
           "y": {"field": "p", "type": "quantitative", "scale": {"domain": [1.0113, 1.1763], "nice": false, "zero": false}, "axis": null},
           "text": {"field": "t"}}},
        {"data": {"values": [{"p": 1.1763, "t": "1.1752"}]}, "mark": {"type": "text", "align": "left", "baseline": "top", "dy": 0.5},
         "encoding": {
           "x": {"datum": 328.4, "type": "quantitative", "scale": {"domain": [0, 326.6], "nice": false, "zero": false}, "axis": null},
           "y": {"field": "p", "type": "quantitative", "scale": {"domain": [1.0113, 1.1763], "nice": false, "zero": false}, "axis": null},
           "text": {"field": "t"}}},
        {"data": {"name": "tags"}, "mark": {"type": "point", "shape": "M-1,-0.3H1V0.3H-1Z", "filled": true, "size": 676, "opacity": 1, "strokeWidth": 0},
         "encoding": {
           "x": {"datum": 331.8, "type": "quantitative", "scale": {"domain": [0, 326.6], "nice": false, "zero": false}, "axis": null},
           "y": {"field": "p", "type": "quantitative", "scale": {"domain": [1.0113, 1.1763], "nice": false, "zero": false}, "axis": null},
           "color": {"condition": {"test": "datum.k == 'cur'", "value": "#000000"}, "value": "#0000ff"}}},
        {"data": {"name": "tags"}, "mark": {"type": "text", "align": "center", "baseline": "middle", "color": "#ffffff"},
         "encoding": {
           "x": {"datum": 331.8, "type": "quantitative", "scale": {"domain": [0, 326.6], "nice": false, "zero": false}, "axis": null},
           "y": {"field": "p", "type": "quantitative", "scale": {"domain": [1.0113, 1.1763], "nice": false, "zero": false}, "axis": null},
           "text": {"field": "t"}}}
      ]
    },
    {
      "width": 872,
      "height": 93,
      "layer": [
        {"data": {"name": "grid"}, "mark": {"type": "rule", "strokeDash": [2, 2], "color": "#000", "strokeWidth": 1, "opacity": 0.85},
         "encoding": {"x": {"field": "g", "type": "quantitative", "scale": {"domain": [0, 326.6], "nice": false, "zero": false}, "axis": null}}},
        {"data": {"name": "bars"}, "mark": {"type": "bar", "size": 1.6, "color": "#c0c0c0", "clip": true},
         "encoding": {
           "x": {"field": "i", "type": "quantitative", "scale": {"domain": [0, 326.6], "nice": false, "zero": false}, "axis": null},
           "y": {"field": "m", "type": "quantitative", "scale": {"domain": [-0.00852, 0.00494], "nice": false, "zero": false}, "axis": null},
           "y2": {"datum": 0}}},
        {"data": {"name": "bars"}, "mark": {"type": "line", "color": "#ff0000", "strokeWidth": 1, "clip": true},
         "encoding": {
           "x": {"field": "i", "type": "quantitative", "scale": {"domain": [0, 326.6], "nice": false, "zero": false}, "axis": null},
           "y": {"field": "s", "type": "quantitative", "scale": {"domain": [-0.00852, 0.00494], "nice": false, "zero": false}, "axis": null}}},
        {"data": {"name": "gMacd"}, "mark": {"type": "line", "color": "#7cfc00", "strokeWidth": 1.6, "clip": true},
         "encoding": {
           "x": {"field": "i", "type": "quantitative", "scale": {"domain": [0, 326.6], "nice": false, "zero": false}, "axis": null},
           "y": {"field": "m", "type": "quantitative", "scale": {"domain": [-0.00852, 0.00494], "nice": false, "zero": false}, "axis": null}}},
        {"data": {"values": [{"t": "0.00391"}]}, "mark": {"type": "text", "align": "left", "baseline": "top", "dy": 3},
         "encoding": {
           "x": {"datum": 0, "type": "quantitative", "scale": {"domain": [0, 326.6], "nice": false, "zero": false}, "axis": null},
           "y": {"datum": 0.00494, "type": "quantitative", "scale": {"domain": [-0.00852, 0.00494], "nice": false, "zero": false}, "axis": null},
           "text": {"field": "t"}}},
        {"data": {"values": [{"e": 326.6}]}, "mark": {"type": "rule", "color": "#808080", "strokeWidth": 1},
         "encoding": {"x": {"field": "e", "type": "quantitative", "scale": {"domain": [0, 326.6], "nice": false, "zero": false}, "axis": null}}},
        {"data": {"values": [{"e": -0.00852}]}, "mark": {"type": "rule", "color": "#8c8c8c", "strokeWidth": 3},
         "encoding": {"y": {"field": "e", "type": "quantitative", "scale": {"domain": [-0.00852, 0.00494], "nice": false, "zero": false}, "axis": null}}},
        {"data": {"values": [{"p": 0.00494}, {"p": 0}, {"p": -0.00852}]}, "mark": {"type": "rule", "color": "#000", "strokeWidth": 1},
         "encoding": {
           "x": {"datum": 326.6, "type": "quantitative", "scale": {"domain": [0, 326.6], "nice": false, "zero": false}, "axis": null},
           "x2": {"datum": 327.7},
           "y": {"field": "p", "type": "quantitative", "scale": {"domain": [-0.00852, 0.00494], "nice": false, "zero": false}, "axis": null}}},
        {"data": {"values": [{"p": 0.00494, "t": "0.00494"}]}, "mark": {"type": "text", "align": "left", "baseline": "top", "dy": 1, "fontSize": 6},
         "encoding": {
           "x": {"datum": 327.6, "type": "quantitative", "scale": {"domain": [0, 326.6], "nice": false, "zero": false}, "axis": null},
           "y": {"field": "p", "type": "quantitative", "scale": {"domain": [-0.00852, 0.00494], "nice": false, "zero": false}, "axis": null},
           "text": {"field": "t"}}},
        {"data": {"values": [{"p": 0, "t": "0.00"}]}, "mark": {"type": "text", "align": "left", "baseline": "middle"},
         "encoding": {
           "x": {"datum": 328.4, "type": "quantitative", "scale": {"domain": [0, 326.6], "nice": false, "zero": false}, "axis": null},
           "y": {"field": "p", "type": "quantitative", "scale": {"domain": [-0.00852, 0.00494], "nice": false, "zero": false}, "axis": null},
           "text": {"field": "t"}}},
        {"data": {"values": [{"p": -0.00852, "t": "-0.00852"}]}, "mark": {"type": "text", "align": "left", "baseline": "bottom", "dy": -2, "fontSize": 6},
         "encoding": {
           "x": {"datum": 327.4, "type": "quantitative", "scale": {"domain": [0, 326.6], "nice": false, "zero": false}, "axis": null},
           "y": {"field": "p", "type": "quantitative", "scale": {"domain": [-0.00852, 0.00494], "nice": false, "zero": false}, "axis": null},
           "text": {"field": "t"}}}
      ]
    },
    {
      "width": 872,
      "height": 94,
      "layer": [
        {"data": {"name": "grid"}, "mark": {"type": "rule", "strokeDash": [2, 2], "color": "#000", "strokeWidth": 1, "opacity": 0.85},
         "encoding": {"x": {"field": "g", "type": "quantitative", "scale": {"domain": [0, 326.6], "nice": false, "zero": false}, "axis": null}}},
        {"data": {"name": "bars"}, "mark": {"type": "line", "color": "#bdbdbd", "strokeWidth": 1.5, "clip": true},
         "encoding": {
           "x": {"field": "i", "type": "quantitative", "scale": {"domain": [0, 326.6], "nice": false, "zero": false}, "axis": null},
           "y": {"field": "v", "type": "quantitative", "scale": {"domain": [-308.915, 325.6039], "nice": false, "zero": false}, "axis": null}}},
        {"data": {"name": "gCciA"}, "mark": {"type": "line", "color": "#7cfc00", "strokeWidth": 1.6, "clip": true},
         "encoding": {
           "x": {"field": "i", "type": "quantitative", "scale": {"domain": [0, 326.6], "nice": false, "zero": false}, "axis": null},
           "y": {"field": "v", "type": "quantitative", "scale": {"domain": [-308.915, 325.6039], "nice": false, "zero": false}, "axis": null}}},
        {"data": {"name": "gCciB"}, "mark": {"type": "line", "color": "#7cfc00", "strokeWidth": 1.6, "clip": true},
         "encoding": {
           "x": {"field": "i", "type": "quantitative", "scale": {"domain": [0, 326.6], "nice": false, "zero": false}, "axis": null},
           "y": {"field": "v", "type": "quantitative", "scale": {"domain": [-308.915, 325.6039], "nice": false, "zero": false}, "axis": null}}},
        {"data": {"values": [{"e": 326.6}]}, "mark": {"type": "rule", "color": "#808080", "strokeWidth": 1},
         "encoding": {"x": {"field": "e", "type": "quantitative", "scale": {"domain": [0, 326.6], "nice": false, "zero": false}, "axis": null}}},
        {"data": {"values": [{"e": -308.915}]}, "mark": {"type": "rule", "color": "#8c8c8c", "strokeWidth": 1.5},
         "encoding": {"y": {"field": "e", "type": "quantitative", "scale": {"domain": [-308.915, 325.6039], "nice": false, "zero": false}, "axis": null}}},
        {"data": {"values": [{"p": 325.6039}, {"p": 0}, {"p": -308.915}]}, "mark": {"type": "rule", "color": "#000", "strokeWidth": 1},
         "encoding": {
           "x": {"datum": 326.6, "type": "quantitative", "scale": {"domain": [0, 326.6], "nice": false, "zero": false}, "axis": null},
           "x2": {"datum": 327.7},
           "y": {"field": "p", "type": "quantitative", "scale": {"domain": [-308.915, 325.6039], "nice": false, "zero": false}, "axis": null}}},
        {"data": {"values": [{"p": 325.6039, "t": "325.6039"}]}, "mark": {"type": "text", "align": "left", "baseline": "top", "dy": 1, "fontSize": 6},
         "encoding": {
           "x": {"datum": 327.3, "type": "quantitative", "scale": {"domain": [0, 326.6], "nice": false, "zero": false}, "axis": null},
           "y": {"field": "p", "type": "quantitative", "scale": {"domain": [-308.915, 325.6039], "nice": false, "zero": false}, "axis": null},
           "text": {"field": "t"}}},
        {"data": {"values": [{"p": 0, "t": "0.00"}]}, "mark": {"type": "text", "align": "left", "baseline": "middle"},
         "encoding": {
           "x": {"datum": 328.4, "type": "quantitative", "scale": {"domain": [0, 326.6], "nice": false, "zero": false}, "axis": null},
           "y": {"field": "p", "type": "quantitative", "scale": {"domain": [-308.915, 325.6039], "nice": false, "zero": false}, "axis": null},
           "text": {"field": "t"}}},
        {"data": {"values": [{"p": -308.915, "t": "-308.915"}]}, "mark": {"type": "text", "align": "left", "baseline": "bottom", "dy": -2, "fontSize": 6},
         "encoding": {
           "x": {"datum": 327.3, "type": "quantitative", "scale": {"domain": [0, 326.6], "nice": false, "zero": false}, "axis": null},
           "y": {"field": "p", "type": "quantitative", "scale": {"domain": [-308.915, 325.6039], "nice": false, "zero": false}, "axis": null},
           "text": {"field": "t"}}},
        {"data": {"name": "xt"}, "mark": {"type": "rule", "color": "#000", "strokeWidth": 1},
         "encoding": {
           "x": {"field": "t", "type": "quantitative", "scale": {"domain": [0, 326.6], "nice": false, "zero": false}, "axis": null},
           "y": {"datum": -308.915, "type": "quantitative", "scale": {"domain": [-308.915, 325.6039], "nice": false, "zero": false}, "axis": null},
           "y2": {"datum": -329.2}}},
        {"data": {"name": "xt"}, "mark": {"type": "text", "align": "left", "baseline": "top", "dy": 4},
         "encoding": {
           "x": {"field": "t", "type": "quantitative", "scale": {"domain": [0, 326.6], "nice": false, "zero": false}, "axis": null},
           "y": {"datum": -308.915, "type": "quantitative", "scale": {"domain": [-308.915, 325.6039], "nice": false, "zero": false}, "axis": null},
           "text": {"field": "lab"}}}
      ]
    }
  ]
}
